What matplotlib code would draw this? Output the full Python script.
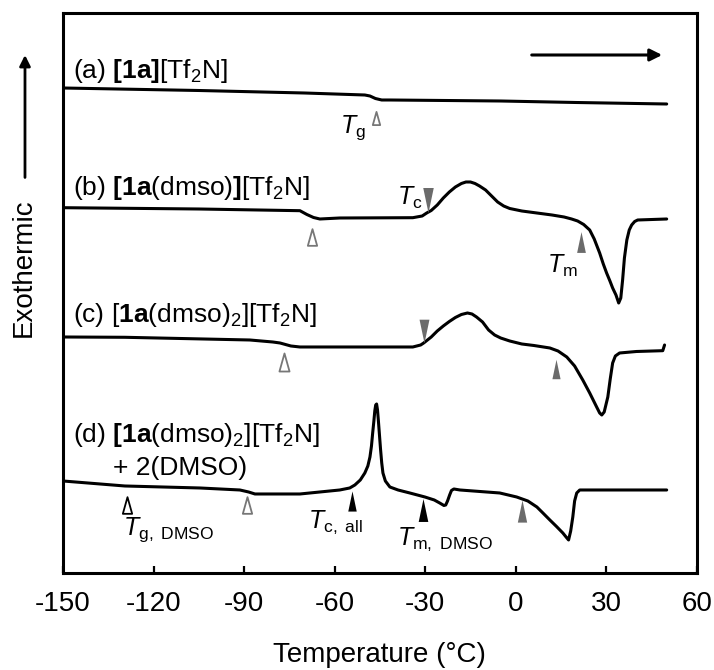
import numpy as np
import matplotlib
matplotlib.use('Agg')
import matplotlib.pyplot as plt
from matplotlib.path import Path

plt.rcParams['font.family'] = 'Liberation Sans'
plt.rcParams['mathtext.fontset'] = 'custom'
plt.rcParams['mathtext.rm'] = 'Liberation Sans'
plt.rcParams['mathtext.it'] = 'Liberation Sans:italic'
plt.rcParams['mathtext.bf'] = 'Liberation Sans:bold'
plt.rcParams['axes.unicode_minus'] = False

# DSC heating traces (temperature in degC, heat flow in arbitrary offset units)
temp_a = [-150, -105, -70, -55, -50, -48.3, -46.5, -44.4, -41.7, -5, 20, 50]
flow_a = [485, 482.5, 480, 478.5, 478, 477, 474.5, 473, 473, 472, 470.5, 469]

temp_b = [-150, -105, -71.5, -69.2, -67, -64.9, -58.3, -34.1, -31, -29.5, -28, -26,
          -24, -22, -20, -18, -16.5, -15, -13.5, -12, -10, -8, -6, -4, -2, 2,
          7, 12, 16, 18.5, 20.5, 22.5, 24.5, 26, 27.8, 29, 30.1, 31.2, 32.1, 33.2,
          34.1, 34.8, 35.4, 36, 36.8, 37.6, 38.4, 39.4, 40.4, 50]
flow_b = [365.3, 364, 362.3, 358.5, 355.5, 354, 355, 355.3, 357, 360, 362.5, 368,
          375, 381, 386, 389.5, 391, 391, 389.5, 387, 383, 377, 371, 367, 364.5, 362,
          360, 358, 356, 354, 352, 348.5, 343, 334, 320, 309, 300, 292, 285, 278,
          270, 275, 293, 315, 333, 343, 348, 351.5, 353, 354]

temp_c = [-150, -129.5, -88.1, -80.5, -78.1, -74.5, -71.5, -34.1, -31.5, -30.5, -28,
          -26, -24, -22, -20, -18, -16, -14.5, -13, -11, -9, -7, -5, -2, 2, 6,
          11.3, 14, 16.9, 19.5, 22.2, 24.5, 26.8, 27.8, 28.5, 29.3, 30.5, 31.3, 32.1,
          33, 34.4, 40, 48.7, 49.3]
flow_c = [236, 235.7, 233, 231, 230, 227, 226, 226, 228, 230, 236,
          242, 247, 251.5, 255.5, 258.5, 260, 259, 256, 251, 243, 238, 235, 232, 229, 227.5,
          225, 222, 216, 207, 193, 180, 166, 160, 158, 161, 176, 194, 210,
          217, 220, 221.5, 222.3, 228]

temp_d = [-150, -129.5, -104.6, -91.4, -88.5, -86.4, -71.5, -58.3, -55.0, -53.3, -51.5,
          -50.0, -49.0, -48.3, -47.8, -47.4, -47.0, -46.7, -46.4, -46.1, -45.8, -45.5,
          -45.2, -44.8, -44.4, -44.0, -43.2, -41.7, -39, -35.1, -30.1, -27, -25.2,
          -23.8, -23.2, -22.6, -21.9, -21.3, -20.5, -18.5, -5.3, 0.3, 4, 7, 9,
          11.3, 13.5, 15.6, 16.8, 17.5, 18.2, 18.9, 19.5, 20.2, 21.2, 50]
flow_d = [92, 87, 85, 83, 81, 79, 79, 83, 85, 88, 93,
          100, 107, 116, 127, 140, 152, 162, 168, 169, 163, 152,
          140, 124, 110, 100, 92, 86, 83, 80, 76, 73, 70,
          67.5, 68, 72, 78, 82.5, 84, 83, 80, 76, 72, 66, 60,
          53, 46.5, 40, 35.5, 33, 42, 56, 72, 80, 83, 83]

# transition markers: temperature, vertical position, height (pt)
glass_t = [-46.4, -67.6, -76.8, -89.1]
glass_y = [455, 336, 211, 68]
glass_h = [9.5, 12, 13, 12]
dmso_glass_t, dmso_glass_y = -128.8, 68

cryst_t = [-29.1, -30.5]
cryst_y = [372.5, 242]
cryst_h = [18, 17]

melt_t = [21.5, 13.2, 2.0]
melt_y = [330.5, 203.5, 62]
melt_h = [15, 14, 16]

all_cryst_t, all_cryst_y = -54.3, 72
dmso_melt_t, dmso_melt_y = -30.8, 62.5

sample_labels = [r'(a) $\mathbf{[1a]}$[Tf$_2$N]',
                 r'(b) $\mathbf{[1a}$(dmso)$\mathbf{]}$[Tf$_2$N]',
                 r'(c) [$\mathbf{1a}$(dmso)$_2$][Tf$_2$N]',
                 r'(d) $\mathbf{[1a}$(dmso)$_2$][Tf$_2$N]']
label_y = [495, 378, 251, 131]

gray = '#6b6b6b'
up_tri = Path([(-0.21, -0.5), (0.21, -0.5), (0, 0.5), (-0.21, -0.5)],
              [Path.MOVETO, Path.LINETO, Path.LINETO, Path.CLOSEPOLY])
down_tri = Path([(-0.21, 0.5), (0.21, 0.5), (0, -0.5), (-0.21, 0.5)],
                [Path.MOVETO, Path.LINETO, Path.LINETO, Path.CLOSEPOLY])
open_tri = Path([(-0.28, -0.5), (0.28, -0.5), (0, 0.5), (-0.28, -0.5)],
                [Path.MOVETO, Path.LINETO, Path.LINETO, Path.CLOSEPOLY])

fig = plt.figure(figsize=(7.14, 6.70), dpi=100)
ax = fig.add_axes([0.0882, 0.1448, 0.8878, 0.8358])

for t, f in [(temp_a, flow_a), (temp_b, flow_b), (temp_c, flow_c), (temp_d, flow_d)]:
    ax.plot(t, f, color='black', lw=2.2, solid_joinstyle='round', solid_capstyle='round')

for t, y, h in zip(glass_t, glass_y, glass_h):
    ax.plot(t, y, marker=open_tri, ms=h, mfc='white', mec='#777777', mew=1.3, ls='none')
ax.plot(dmso_glass_t, dmso_glass_y, marker=open_tri, ms=12, mfc='white', mec='black',
        mew=1.3, ls='none')
for t, y, h in zip(cryst_t, cryst_y, cryst_h):
    ax.plot(t, y, marker=down_tri, ms=h, color=gray, mew=0, ls='none')
for t, y, h in zip(melt_t, melt_y, melt_h):
    ax.plot(t, y, marker=up_tri, ms=h, color=gray, mew=0, ls='none')
ax.plot(all_cryst_t, all_cryst_y, marker=up_tri, ms=14.5, color='black', mew=0, ls='none')
ax.plot(dmso_melt_t, dmso_melt_y, marker=up_tri, ms=16.5, color='black', mew=0, ls='none')

for lab, y in zip(sample_labels, label_y):
    ax.text(-146.7, y, lab, fontsize=19, va='baseline', ha='left')
ax.text(-133.4, 98, '+ 2(DMSO)', fontsize=19, va='baseline', ha='left')

# transition labels
ax.text(-58.3, 440, r'$T_{\mathrm{g}}$', fontsize=18, va='baseline')
ax.text(-39.4, 368, r'$T_{\mathrm{c}}$', fontsize=18, va='baseline')
ax.text(10.3, 300, r'$T_{\mathrm{m}}$', fontsize=18, va='baseline')
ax.text(-130.1, 38, r'$T_{\mathrm{g,\ DMSO}}$', fontsize=18, va='baseline')
ax.text(-68.9, 45, r'$T_{\mathrm{c,\ all}}$', fontsize=18, va='baseline')
ax.text(-39.4, 28, r'$T_{\mathrm{m,\ DMSO}}$', fontsize=18, va='baseline')

# heating direction
ax.annotate('', xy=(48.5, 518), xytext=(5.3, 518),
            arrowprops=dict(arrowstyle='-|>', lw=2.2, color='black',
                            mutation_scale=18, shrinkA=0, shrinkB=0))

ax.set_xlim(-150, 60)
ax.set_ylim(0, 560)
ax.set_xticks([-150, -120, -90, -60, -30, 0, 30, 60])
ax.set_yticks([])
ax.tick_params(axis='x', direction='in', length=5, width=1.6, labelsize=20, pad=13)
for sp in ax.spines.values():
    sp.set_linewidth(2.2)
ax.set_xlabel('Temperature (°C)', fontsize=20, labelpad=18)

# exothermic direction on the left
fig.text(0.033, 0.601, 'Exothermic', rotation=90, fontsize=20, ha='center', va='center')
fig.patches.append(matplotlib.patches.FancyArrowPatch(
    (0.035, 0.731), (0.035, 0.922), transform=fig.transFigure, arrowstyle='-|>',
    lw=2.0, color='black', mutation_scale=16))

fig.savefig('out.png', dpi=100)
